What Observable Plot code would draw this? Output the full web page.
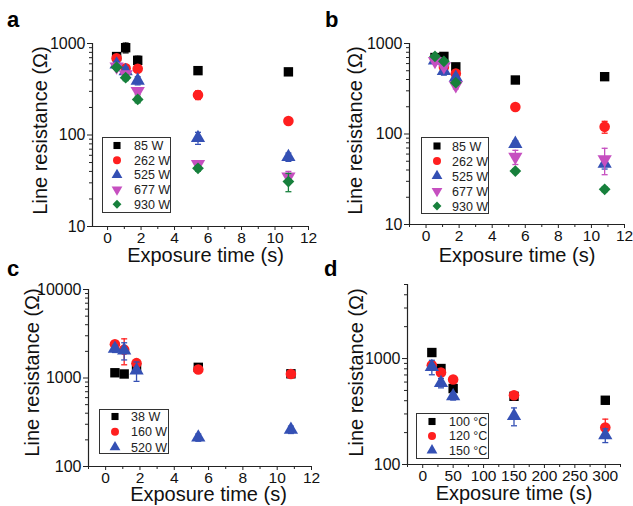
<!DOCTYPE html>
<html>
<head>
<meta charset="utf-8">
<script src="https://cdn.jsdelivr.net/npm/d3@7"></script>
<script src="https://cdn.jsdelivr.net/npm/@observablehq/plot@0.6"></script>
<style>
  body { margin: 0; background: #fff; }
  #chart { position: relative; width: 633px; height: 506px; overflow: hidden; font-family: "Liberation Sans", Arial, sans-serif; }
  .letter { position: absolute; font-weight: bold; font-size: 22px; color: #000; line-height: 1; }
  .legend { position: absolute; border: 1px solid #333; background: #fff; box-sizing: border-box; }
  .legend svg { overflow: visible; }
</style>
</head>
<body>
<div id="chart"></div>
<script>
// ---------- data ----------
const timesABC = [0.54, 1.08, 1.8, 5.4, 10.8];
const timesD = [15, 30, 50, 150, 300];

const seriesAB = ["85 W", "262 W", "525 W", "677 W", "930 W"];
const seriesC = ["38 W", "160 W", "520 W"];
const seriesD = ["100 °C", "120 °C", "150 °C"];

// panel a
const aR85  = [720, 900, 655, 505, 490];
const aR262 = [690, 535, 530, 274, 142];
const aR525 = [590, 500, 393, 93, 57.5];
const aR677 = [560, 460, 302, 48, 35];
const aR930 = [550, 423, 245, 43.3, 31];
const aE85  = [40, 110, 70, 40, 40];
const aE262 = [30, 30, 30, 30, 10];
const aE525 = [40, 50, 40, 14, 6];
const aE677 = [30, 30, 25, 4, 5];
const aE930 = [30, 30, 20, 3, 7];

// panel b
const bR85  = [700, 720, 552, 395, 430];
const bR262 = [680, 550, 466, 199, 120];
const bR525 = [650, 497, 419, 78, 47];
const bR677 = [640, 560, 345, 56, 52.5];
const bR930 = [720, 635, 369, 39, 24.5];
const bE85  = [20, 20, 20, 25, 25];
const bE262 = [20, 40, 30, 10, 18];
const bE525 = [40, 50, 30, 6, 6];
const bE677 = [40, 40, 30, 10, 17];
const bE930 = [20, 30, 20, 2, 1.5];

// panel c
const cR38  = [1146, 1110, 1306, 1320, 1116];
const cR160 = [2400, 2090, 1472, 1248, 1110];
const cR520 = [2143, 2050, 1216, 213, 261];
const cE38  = [50, 60, 80, 60, 50];
const cE160 = [150, 680, 100, 70, 60];
const cE520 = [200, 450, 300, 20, 25];

// panel d
const dR100 = [1140, 805, 521, 440, 404];
const dR120 = [865, 738, 634, 450, 223];
const dR150 = [833, 589, 441, 287, 189];
const dE100 = [80, 40, 30, 20, 30];
const dE120 = [60, 40, 30, 30, 45];
const dE150 = [130, 60, 35, 55, 28];

// tick values
const xMajorABC = [0, 2, 4, 6, 8, 10, 12];
const xMinorABC = [-1, 1, 3, 5, 7, 9, 11];
const xMajorD = [0, 50, 100, 150, 200, 250, 300];
const xMinorD = [-25, 25, 75, 125, 175, 225, 275, 325];
const yMajorAB = [10, 100, 1000];
const yMajorC = [100, 1000, 10000];
const yMajorD = [100, 1000];

const xTitle = "Exposure time (s)";
const yTitle = "Line resistance (Ω)";

// ---------- styles ----------
const colors5 = ["#000000", "#ff1f1f", "#3450b4", "#c64fc0", "#17803c"];
const colors3 = ["#000000", "#ff1f1f", "#3450b4"];

const triDown = {
  draw(ctx, size) {
    const y = -Math.sqrt(size / (Math.sqrt(3) * 3));
    ctx.moveTo(0, -y * 2);
    ctx.lineTo(Math.sqrt(3) * y, y);
    ctx.lineTo(-Math.sqrt(3) * y, y);
    ctx.closePath();
  }
};
const capSym = { draw(ctx) { ctx.moveTo(-3, 0); ctx.lineTo(3, 0); } };
const symbols5 = ["square", "circle", "triangle", triDown, "diamond2"];
const symbols3 = ["square", "circle", "triangle"];

function logMinor(lo, hi) {
  const out = [];
  for (let d = lo; d < hi; d *= 10) for (let k = 2; k <= 9; k++) if (d * k <= hi) out.push(d * k);
  return out;
}

const W = 633, H = 506;
const chart = document.getElementById("chart");

function panel(p) {
  const marks = [];
  marks.push(Plot.ruleX([p.xDomain[0]], {stroke: "#222", strokeWidth: 1.2}));
  marks.push(Plot.ruleY([p.yDomain[0]], {stroke: "#222", strokeWidth: 1.2}));
  marks.push(Plot.axisX({ticks: p.xMajor, tickSize: 4, tickPadding: 1.5, fontSize: 15.5, label: null, stroke: "#222", fill: "#111"}));
  marks.push(Plot.axisX({ticks: p.xMinor, tickSize: 3, text: null, label: null, stroke: "#222"}));
  marks.push(Plot.axisY({ticks: p.yMajor, tickSize: 5, tickPadding: 2, fontSize: 16, label: null, tickFormat: d3.format("d"), stroke: "#222", fill: "#111"}));
  marks.push(Plot.axisY({ticks: logMinor(p.yDomain[0], p.yDomain[1]), tickSize: 3, text: null, label: null, stroke: "#222"}));
  p.values.forEach((vals, i) => {
    const rows = p.times.map((t, j) => ({x: t, v: vals[j], e: p.errors[i][j]}));
    const c = p.colors[i];
    marks.push(Plot.ruleX(rows, {x: "x", y1: d => d.v - d.e, y2: d => d.v + d.e, stroke: c, strokeWidth: 1.3}));
    marks.push(Plot.dot(rows, {x: "x", y: d => d.v - d.e, symbol: capSym, r: 3, stroke: c, fill: "none", strokeWidth: 1.3}));
    marks.push(Plot.dot(rows, {x: "x", y: d => d.v + d.e, symbol: capSym, r: 3, stroke: c, fill: "none", strokeWidth: 1.3}));
    marks.push(Plot.dot(rows, {x: "x", y: "v", symbol: p.symbols[i], r: 5.3, fill: c, stroke: "none"}));
  });
  marks.push(Plot.text([xTitle], {frameAnchor: "bottom", textAnchor: "middle", lineAnchor: "middle", dx: p.xtdx, dy: p.xtdy, fontSize: 20, fill: "#111"}));
  marks.push(Plot.text([yTitle], {frameAnchor: "left", textAnchor: "middle", lineAnchor: "middle", rotate: -90, dx: p.ytdx, dy: p.ytdy, fontSize: 20, fill: "#111"}));
  const svg = Plot.plot({
    width: W, height: H,
    marginLeft: p.left, marginRight: W - p.right, marginTop: p.top, marginBottom: H - p.bottom,
    style: {position: "absolute", left: "0px", top: "0px", background: "transparent", overflow: "visible",
            fontFamily: "'Liberation Sans', Arial, sans-serif", color: "#111"},
    x: {domain: p.xDomain},
    y: {type: "log", domain: p.yDomain},
    marks
  });
  chart.appendChild(svg);

  const let_ = document.createElement("div");
  let_.className = "letter";
  let_.textContent = p.letter;
  let_.style.left = p.letterX + "px";
  let_.style.top = p.letterY + "px";
  chart.appendChild(let_);

  // legend
  const lg = p.legend;
  const box = document.createElement("div");
  box.className = "legend";
  box.style.left = lg.x + "px"; box.style.top = lg.y + "px";
  box.style.width = lg.w + "px"; box.style.height = lg.h + "px";
  const s = d3.create("svg").attr("width", lg.w - 2).attr("height", lg.h - 2).style("display", "block");
  p.series.forEach((name, i) => {
    const yy = lg.first + i * lg.step;
    const sym = p.symbols[i];
    const symObj = typeof sym === "string"
      ? ({square: d3.symbolSquare, circle: d3.symbolCircle, triangle: d3.symbolTriangle, diamond2: d3.symbolDiamond2})[sym]
      : sym;
    s.append("path").attr("d", d3.symbol(symObj, Math.PI * 16)())
      .attr("transform", `translate(${lg.mx},${yy})`).attr("fill", p.colors[i]);
    s.append("text").attr("x", lg.tx).attr("y", yy).attr("dy", "0.36em")
      .attr("font-size", 12.5).attr("fill", "#222")
      .attr("font-family", "'Liberation Sans', Arial, sans-serif").text(name);
  });
  box.appendChild(s.node());
  chart.appendChild(box);
}

panel({
  letter: "a", letterX: 7, letterY: 9,
  left: 92, right: 308, top: 43, bottom: 226,
  xDomain: [-0.9, 12], yDomain: [10, 1000],
  xMajor: xMajorABC, xMinor: xMinorABC.slice(1), yMajor: yMajorAB,
  times: timesABC, series: seriesAB, colors: colors5, symbols: symbols5,
  values: [aR85, aR262, aR525, aR677, aR930],
  errors: [aE85, aE262, aE525, aE677, aE930],
  xtdx: 5, xtdy: 29, ytdx: -52, ytdy: -4.5,
  legend: {x: 102, y: 137, w: 69, h: 76, mx: 14, tx: 31, first: 7.5, step: 14.7}
});
panel({
  letter: "b", letterX: 325, letterY: 9,
  left: 409, right: 624, top: 43, bottom: 224,
  xDomain: [-1, 12], yDomain: [10, 1000],
  xMajor: xMajorABC, xMinor: xMinorABC, yMajor: yMajorAB,
  times: timesABC, series: seriesAB, colors: colors5, symbols: symbols5,
  values: [bR85, bR262, bR525, bR677, bR930],
  errors: [bE85, bE262, bE525, bE677, bE930],
  xtdx: 0, xtdy: 31, ytdx: -54, ytdy: -3.5,
  legend: {x: 421, y: 137, w: 68, h: 77, mx: 15, tx: 30, first: 8, step: 15}
});
panel({
  letter: "c", letterX: 7, letterY: 258,
  left: 88, right: 311, top: 289, bottom: 466,
  xDomain: [-1, 12], yDomain: [100, 10000],
  xMajor: xMajorABC, xMinor: xMinorABC, yMajor: yMajorC,
  times: timesABC, series: seriesC, colors: colors3, symbols: symbols3,
  values: [cR38, cR160, cR520],
  errors: [cE38, cE160, cE520],
  xtdx: 8.5, xtdy: 28.5, ytdx: -56, ytdy: -5.5,
  legend: {x: 99, y: 409, w: 70, h: 45, mx: 15, tx: 31, first: 6.5, step: 15.3}
});
panel({
  letter: "d", letterX: 324, letterY: 258,
  left: 407, right: 620, top: 284, bottom: 464,
  xDomain: [-25, 325], yDomain: [100, 5000],
  xMajor: xMajorD, xMinor: xMinorD, yMajor: yMajorD,
  times: timesD, series: seriesD, colors: colors3, symbols: symbols3,
  values: [dR100, dR120, dR150],
  errors: [dE100, dE120, dE150],
  xtdx: 0, xtdy: 29.5, ytdx: -51, ytdy: -2,
  legend: {x: 416, y: 413, w: 73, h: 46, mx: 15, tx: 32, first: 7.5, step: 14.4}
});
</script>
</body>
</html>
